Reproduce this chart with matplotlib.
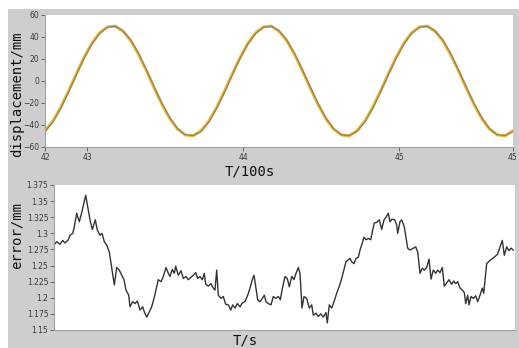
import numpy as np
import matplotlib
matplotlib.use("Agg")
import matplotlib.pyplot as plt
from matplotlib.patches import Rectangle

# top panel: displacement, sampled every 0.05 (x100 s) from 42.73
disp_t0 = 42.73
disp_step = 0.05
disp_ref = [-45.2, -36.5, -24.1, -9.4, 6.3, 21.3, 34.2, 43.8, 49.1, 50.0,
            45.2, 36.5, 24.1, 9.4, -6.3, -21.3, -34.2, -43.8, -49.1, -49.8,
            -45.2, -36.5, -24.1, -9.4, 6.3, 21.3, 34.2, 43.8, 49.1, 50.0,
            45.2, 36.5, 24.1, 9.4, -6.3, -21.3, -34.2, -43.8, -49.1, -49.8,
            -45.2, -36.5, -24.1, -9.4, 6.3, 21.3, 34.2, 43.8, 49.1, 50.0,
            45.2, 36.5, 24.1, 9.4, -6.3, -21.3, -34.2, -43.8, -49.1, -49.8,
            -45.2]
disp_meas = [-46.0, -37.5, -25.2, -10.5, 5.2, 20.4, 33.5, 43.2, 48.8, 49.7,
             45.8, 37.4, 25.0, 10.4, -5.3, -20.4, -33.4, -43.2, -48.8, -49.6,
             -45.9, -37.4, -25.1, -10.4, 5.3, 20.3, 33.4, 43.2, 48.8, 49.7,
             45.8, 37.4, 25.0, 10.3, -5.3, -20.4, -33.4, -43.3, -48.8, -49.6,
             -45.9, -37.4, -25.1, -10.4, 5.3, 20.3, 33.4, 43.2, 48.8, 49.7,
             45.8, 37.4, 25.0, 10.3, -5.3, -20.4, -33.4, -43.3, -48.8, -49.6,
             -45.9]
disp_ticks = [42.73, 43, 44, 45, 45.73]
disp_tick_labels = ["42", "43", "44", "45", "45"]
disp_yticks = [60, 40, 20, 0, -20, -40, -60]

# bottom panel: tracking error (time, error)
err_points = [
    (0, 1.282), (2.7, 1.287), (6, 1.283), (8.7, 1.289), (11, 1.285), (14.3, 1.290), (16, 1.297), (18.7, 1.300),
    (20, 1.308), (22.7, 1.331), (25.3, 1.318), (28, 1.334), (31.7, 1.359), (33.7, 1.341), (36, 1.321), (38.3, 1.306),
    (41.3, 1.321), (43.3, 1.305), (46, 1.297), (48, 1.300), (50.3, 1.287), (52.7, 1.282), (55.3, 1.271), (57.7, 1.246),
    (60.3, 1.220), (62.7, 1.247), (65.3, 1.243), (67.7, 1.235), (70, 1.228), (72, 1.212), (74.7, 1.204), (76, 1.186),
    (78.7, 1.194), (81, 1.191), (83.3, 1.195), (86, 1.181), (88.7, 1.186), (90.3, 1.178), (92.7, 1.170), (95.3, 1.178),
    (97.7, 1.186), (100, 1.199), (102.7, 1.217), (104.3, 1.228), (107, 1.225), (109.3, 1.233), (112, 1.247), (114.3, 1.238),
    (116, 1.233), (118.3, 1.244), (120.3, 1.238), (121.7, 1.249), (124.3, 1.235), (127, 1.242), (129.3, 1.230), (132, 1.233),
    (134.3, 1.228), (137, 1.232), (139.3, 1.235), (141.7, 1.239), (143.7, 1.230), (146, 1.233), (148.3, 1.228), (150.3, 1.238),
    (151.7, 1.221), (154.3, 1.218), (157, 1.222), (159.3, 1.215), (161, 1.212), (162.7, 1.243), (164.3, 1.204), (167, 1.199),
    (169.3, 1.202), (171.7, 1.190), (174.3, 1.189), (176.7, 1.181), (178.7, 1.189), (181, 1.184), (183.3, 1.191), (186, 1.186),
    (188.3, 1.192), (191, 1.194), (193.7, 1.204), (196, 1.215), (198.3, 1.228), (200, 1.235), (201.7, 1.217), (203.7, 1.197),
    (206, 1.194), (208.3, 1.199), (210.3, 1.204), (212, 1.194), (214.3, 1.191), (217, 1.189), (219.3, 1.202), (221.7, 1.199),
    (224.3, 1.202), (226.3, 1.197), (228.7, 1.217), (231, 1.233), (233.3, 1.230), (235.3, 1.217), (237.7, 1.233), (240, 1.228),
    (242, 1.238), (244.3, 1.247), (246, 1.238), (248, 1.184), (250, 1.202), (252.7, 1.199), (255.3, 1.184), (257.7, 1.189),
    (259.3, 1.173), (262, 1.176), (264.3, 1.171), (266.7, 1.175), (269.3, 1.170), (272, 1.177), (273.3, 1.161), (275.3, 1.189),
    (277.7, 1.184), (280, 1.194), (282.7, 1.207), (285.3, 1.218), (287.7, 1.230), (290, 1.244), (292, 1.256), (294.3, 1.259),
    (296, 1.261), (297.7, 1.256), (300, 1.253), (302, 1.261), (304.3, 1.263), (306, 1.274), (308.7, 1.287), (310, 1.294),
    (312, 1.290), (314.3, 1.292), (316.7, 1.290), (318.7, 1.305), (320.3, 1.316), (322.7, 1.317), (325.3, 1.321), (327.7, 1.306),
    (330, 1.321), (332, 1.325), (334.3, 1.331), (336, 1.318), (338, 1.322), (340.7, 1.321), (342.7, 1.313), (343.7, 1.300),
    (346, 1.318), (347.7, 1.321), (350.3, 1.310), (353.7, 1.277), (356, 1.274), (359.3, 1.277), (361.7, 1.279), (363.7, 1.271),
    (366, 1.238), (368.3, 1.246), (370.3, 1.243), (372.7, 1.247), (375, 1.260), (377, 1.229), (379.3, 1.243), (381.7, 1.238),
    (383.7, 1.243), (386, 1.239), (388.3, 1.247), (390.3, 1.218), (392.7, 1.223), (395, 1.228), (397.7, 1.221), (399.7, 1.226),
    (401.7, 1.222), (403.7, 1.225), (406, 1.215), (408.3, 1.212), (410.3, 1.208), (411.7, 1.191), (413.7, 1.204), (415, 1.189),
    (417, 1.202), (419.3, 1.199), (421.7, 1.203), (423.7, 1.194), (426, 1.204), (428.3, 1.215), (429.7, 1.207), (432.7, 1.253),
    (436, 1.258), (441, 1.264), (443.7, 1.268), (446, 1.279), (448.3, 1.289), (450.3, 1.266), (452.7, 1.279), (455, 1.273),
    (457, 1.277), (459.3, 1.274),
]
err_yticks = [1.375, 1.35, 1.325, 1.3, 1.275, 1.25, 1.225, 1.2, 1.175, 1.15]
err_tick_labels = ["1.375", "1.35", "1.325", "1.3", "1.275", "1.25", "1.225", "1.2", "1.175", "1.15"]

W, H = 519, 348
fig = plt.figure(figsize=(W / 100, H / 100), dpi=100)
fig.patch.set_facecolor("white")
fig.patches.append(Rectangle((8 / W, 0), 1 - 8 / W, 1 - 9 / H, transform=fig.transFigure,
                             facecolor="#cecece", edgecolor="none", zorder=-10))

gray_text = "#3a3a3a"
label_font = dict(family="DejaVu Sans Mono", fontsize=10, color="#111111")

ax1 = fig.add_axes([45 / W, 1 - 147 / H, (513 - 45) / W, (147 - 15) / H])
t = disp_t0 + disp_step * np.arange(len(disp_ref))
ax1.plot(t, disp_ref, color="#f0b428", lw=2.1)
ax1.plot(t, disp_meas, color="#8c8470", lw=0.9)
ax1.set_xlim(42.73, 45.73)
ax1.set_ylim(-60, 60)
ax1.set_xticks(disp_ticks)
ax1.set_xticklabels(disp_tick_labels)
ax1.set_yticks(disp_yticks)
ax1.set_ylabel("displacement/mm", **label_font)
ax1.set_xlabel("T/100s", **label_font)
ax1.yaxis.set_label_coords(-0.045, 0.40)
ax1.xaxis.set_label_coords(0.438, -0.135)

err_t = [p[0] for p in err_points]
err_val = [p[1] for p in err_points]
ax2 = fig.add_axes([54 / W, 1 - 330 / H, (515 - 54) / W, (330 - 185) / H])
ax2.plot(err_t, err_val, color="#333333", lw=1.0)
ax2.set_xlim(0, 461)
ax2.set_ylim(1.15, 1.375)
ax2.set_yticks(err_yticks)
ax2.set_yticklabels(err_tick_labels)
ax2.set_xticks([])
ax2.set_ylabel("error/mm", **label_font)
ax2.set_xlabel("T/s", **label_font)
ax2.yaxis.set_label_coords(-0.065, 0.655)
ax2.xaxis.set_label_coords(0.414, -0.025)

for ax in (ax1, ax2):
    ax.set_facecolor("white")
    for side in ("top", "right"):
        ax.spines[side].set_visible(False)
    for side in ("left", "bottom"):
        ax.spines[side].set_color("#a0a0a0")
        ax.spines[side].set_linewidth(0.8)
    ax.tick_params(labelsize=5.5, colors="#555555", labelcolor=gray_text, length=3, width=0.6, pad=1)

fig.savefig("out.png", dpi=100, facecolor=fig.get_facecolor())
